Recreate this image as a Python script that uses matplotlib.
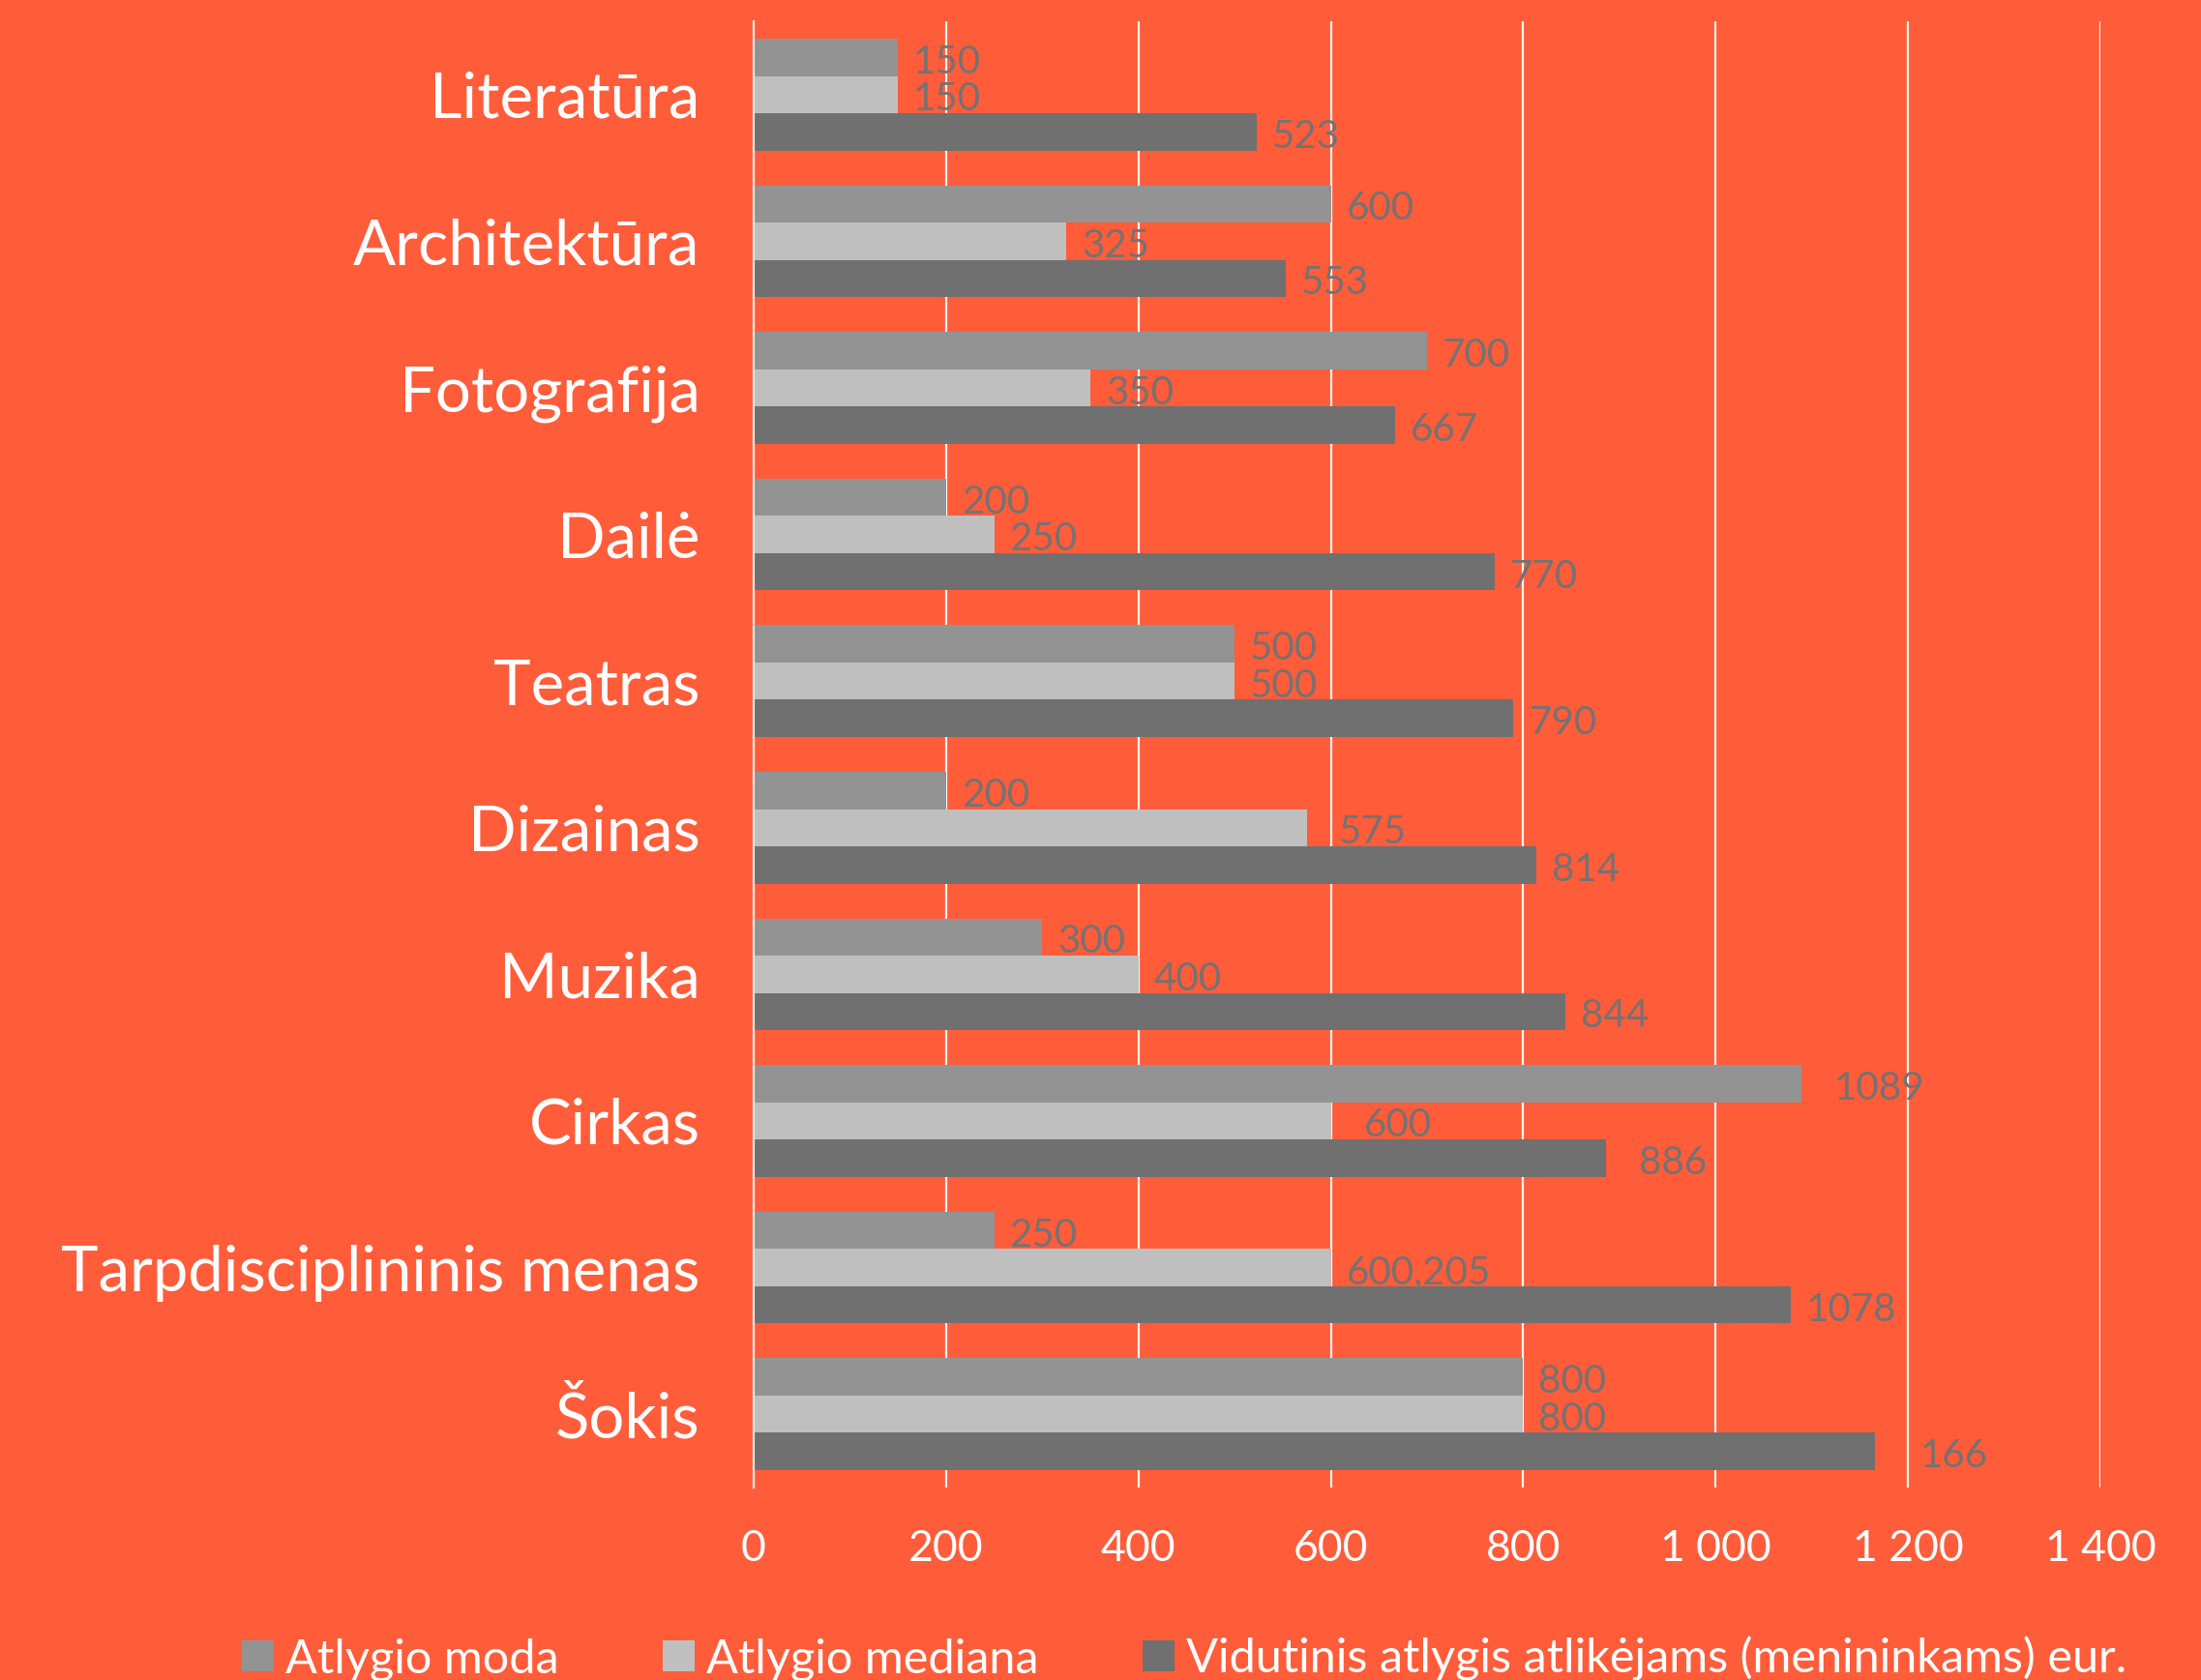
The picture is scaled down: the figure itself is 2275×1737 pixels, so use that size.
import matplotlib
matplotlib.use("Agg")
import matplotlib.pyplot as plt
import numpy as np

# data, top to bottom as in the chart
categories = ["Literatūra", "Architektūra", "Fotografija", "Dailė", "Teatras",
              "Dizainas", "Muzika", "Cirkas", "Tarpdisciplininis menas", "Šokis"]
moda = [150, 600, 700, 200, 500, 200, 300, 1089, 250, 800]
mediana = [150, 325, 350, 250, 500, 575, 400, 600, 600.205, 800]
vidutinis = [523, 553, 667, 770, 790, 814, 844, 886, 1078, 1166]
moda_labels = ["150", "600", "700", "200", "500", "200", "300", "1089", "250", "800"]
mediana_labels = ["150", "325", "350", "250", "500", "575", "400", "600", "600,205", "800"]
vidutinis_labels = ["523", "553", "667", "770", "790", "814", "844", "886", "1078", "166"]
series_names = ["Atlygio moda", "Atlygio mediana",
                "Vidutinis atlygis atlikėjams (menininkams) eur."]
x_ticks = [0, 200, 400, 600, 800, 1000, 1200, 1400]
x_tick_labels = ["0", "200", "400", "600", "800", "1 000", "1 200", "1 400"]

BG = "#FF5C3A"
colors = ["#939393", "#BFBFBF", "#707070"]
LABEL_GREY = "#757272"

plt.rcParams["font.family"] = ["Lato", "DejaVu Sans"]

fig = plt.figure(figsize=(22.75, 17.37), dpi=100, facecolor=BG)
ax = fig.add_axes([0.3424, 0.1146, 0.9543 - 0.3424, 0.9873 - 0.1146])
ax.set_facecolor(BG)

n = len(categories)
y = np.arange(n)
h = 0.254
all_vals = [moda, mediana, vidutinis]
all_labels = [moda_labels, mediana_labels, vidutinis_labels]
# a few labels sit a bit further from their bar end in the original
extra_pad = {(7, 0): 18, (7, 1): 18, (7, 2): 18, (5, 1): 17, (9, 2): 30}

for k, (vals, labs) in enumerate(zip(all_vals, all_labels)):
    pos = y + (k - 1) * h
    ax.barh(pos, vals, height=h, color=colors[k], label=series_names[k], zorder=2)
    for i, (v, t) in enumerate(zip(vals, labs)):
        ax.annotate(t, xy=(v, pos[i]), xytext=(16 + extra_pad.get((i, k), 0), -5),
                    textcoords="offset pixels", va="center", ha="left",
                    fontsize=29, color=LABEL_GREY, zorder=3)

ax.set_xlim(0, 1400)
ax.set_ylim(n - 0.5, -0.5)
ax.set_yticks(y)
ax.set_yticklabels(categories, fontsize=47, color="white")
ax.set_xticks(x_ticks)
ax.set_xticklabels(x_tick_labels, fontsize=32, color="white")
ax.tick_params(axis="both", length=0)
ax.tick_params(axis="x", pad=31)
ax.tick_params(axis="y", pad=40)

ax.grid(True, axis="x", color="#F4F4F4", linewidth=1.6, zorder=0)
for s in ["top", "right", "bottom"]:
    ax.spines[s].set_visible(False)
ax.spines["left"].set_color("#E8E8E8")
ax.spines["left"].set_linewidth(1.6)
ax.spines["left"].set_zorder(4)

leg = fig.legend(loc="center left", bbox_to_anchor=(0.11, 0.0130), ncol=3, frameon=False,
                 fontsize=35, handlelength=0.68, handleheight=0.62, handletextpad=0.25,
                 columnspacing=2.2, borderpad=0, borderaxespad=0)
for t in leg.get_texts():
    t.set_color("white")

fig.savefig("out.png", dpi=100, facecolor=BG)
